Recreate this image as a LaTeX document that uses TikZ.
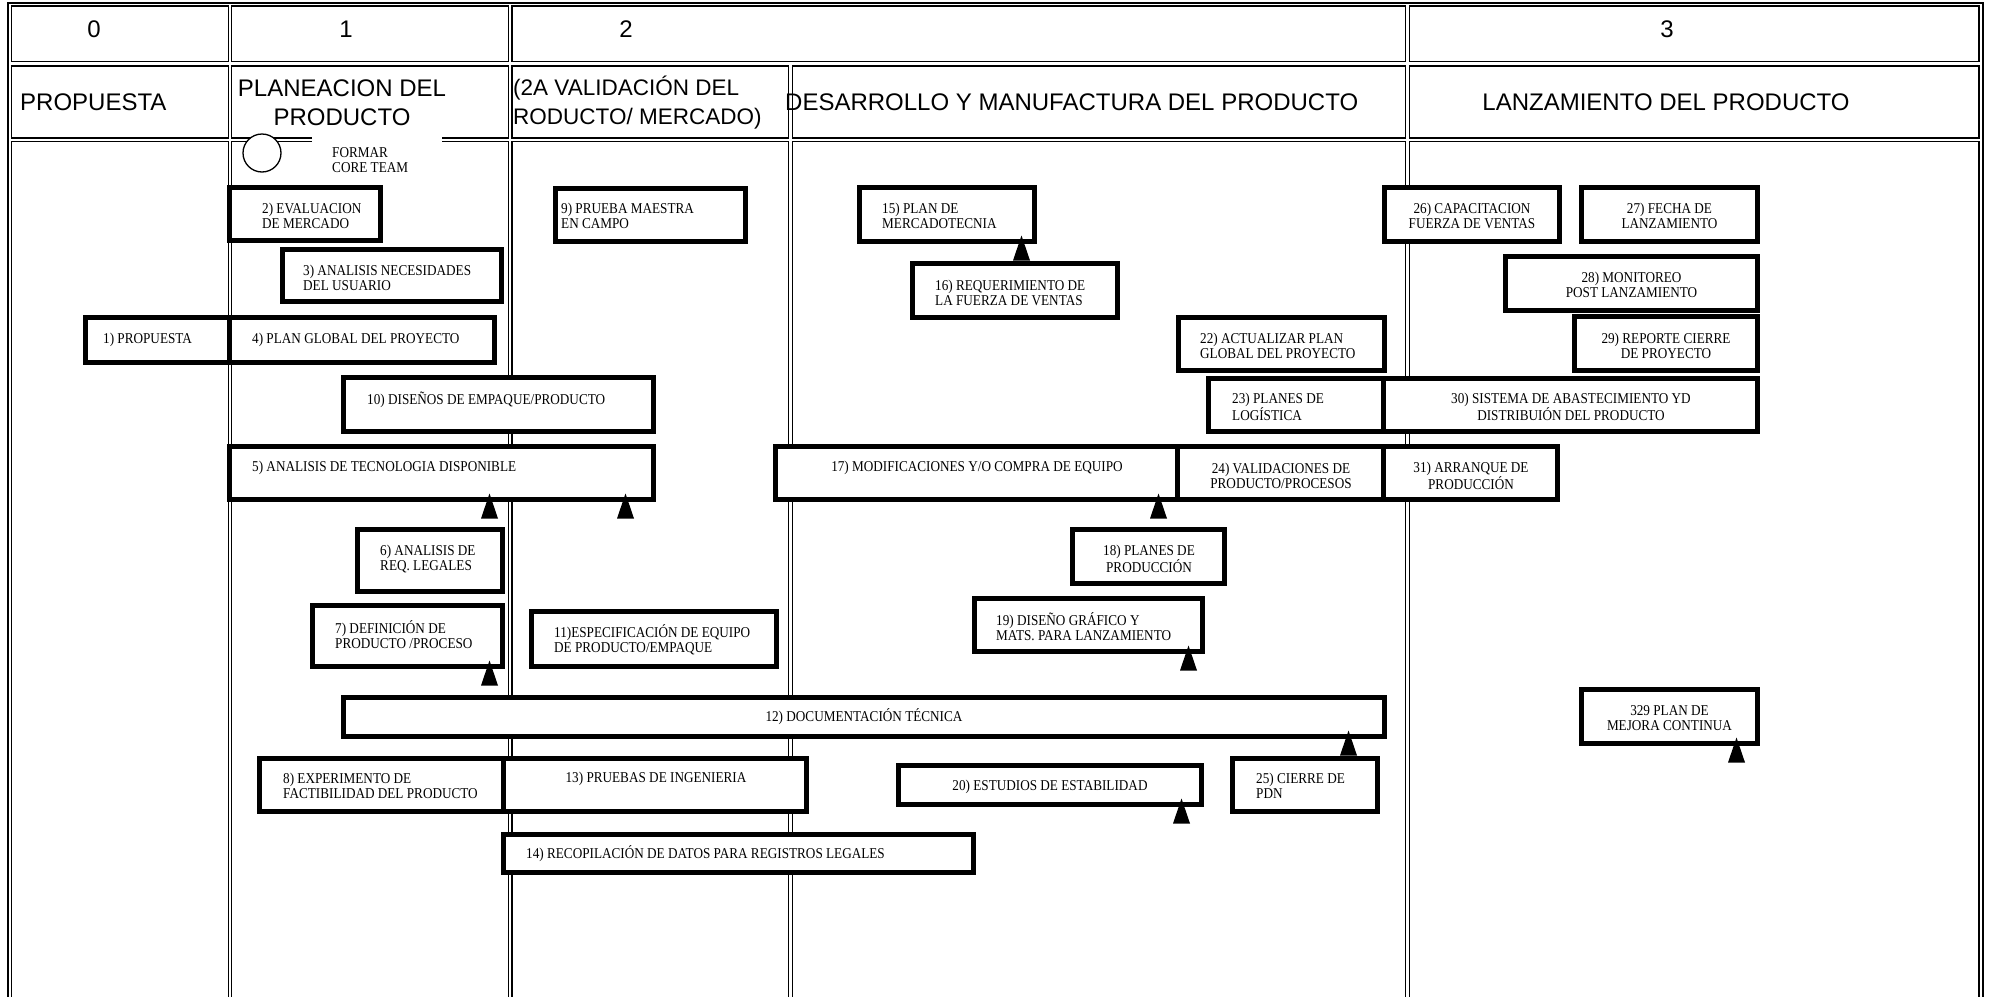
\documentclass[tikz,border=0pt]{standalone}
\usepackage{fontspec}
\setmainfont{Liberation Serif}
\newfontfamily\headfont{Liberation Sans}
\newfontfamily\taskfont[FakeStretch=0.88]{Liberation Serif}
\usetikzlibrary{calc}

% task box given by its outer corners: name, x1, y1, x2, y2
\newcommand\taskbox[5]{%
  \node[task,minimum width={#4-#2-5},minimum height={#5-#3-5}]
    (#1) at ({(#2+#4)/2},{(#3+#5)/2}) {};}
% small upward marker hanging under a box, #2 = distance from its right edge
\newcommand\upmarker[2]{%
  \fill ($(#1.south east)+({2.5-#2},-8.5)$) -- ++(8.5,25) -- ++(-17,0) -- cycle;}

\begin{document}
\begin{tikzpicture}[x=1pt,y=-1pt,
  cell/.style={draw=black,line width=1.3pt},
  task/.style={rectangle,draw=black,fill=white,line width=5pt,inner sep=0pt},
  tasktext/.style={font=\taskfont\fontsize{15}{15}\selectfont,inner sep=0pt},
  head/.style={font=\headfont\fontsize{24}{29}\selectfont,inner sep=0pt},
  blank/.style={fill=white,draw=none}]
\useasboundingbox (0,0) rectangle (1989,996);

% ---- table frame and cells ----
\draw[cell] (8,3) rectangle (1983,1100);
\foreach \a/\b in {11.5/228.5, 231.7/508.5, 512/1405.5, 1409.3/1979}
  \draw[cell] (\a,6) rectangle (\b,61.5);
\foreach \a/\b in {11.5/228.5, 231.7/508.5, 512/788.5, 792.3/1405.5, 1409.3/1979}{
  \draw[cell] (\a,66) rectangle (\b,138);
  \draw[cell] (\a,141.8) rectangle (\b,1100);
}

% ---- phase numbers ----
\node[head] (n0) at (94,29) {0};
\node[head] (n1) at (346,29) {1};
\node[head] (n2) at (626,29) {2};
\node[head] (n3) at (1667,29) {3};

% ---- phase titles ----
\node[head,anchor=west] (h0) at (20,102.5) {PROPUESTA};
\node[head,align=center] (h1) at (342,103) {PLANEACION DEL\\PRODUCTO};
\node[head,align=left,anchor=west,font=\headfont\fontsize{22.5}{29}\selectfont]
  (h2) at (513,103) {(2A VALIDACIÓN DEL\\RODUCTO/ MERCADO)};
\node[head,anchor=west] (h3) at (785,102.5) {DESARROLLO Y MANUFACTURA DEL PRODUCTO};
\node[head] (h4) at (1666,102.5) {LANZAMIENTO DEL PRODUCTO};

% ---- core team start ----
\fill[blank] (312,126) rectangle (442,180);
\node[circle,draw=black,fill=white,line width=1.3pt,minimum size=38pt,inner sep=0pt]
  (core) at (262,153) {};
\node[tasktext,anchor=west,align=left] (corel) at (332,160.5) {FORMAR\\CORE TEAM};

% ---- tasks ----
\taskbox{b2}{227}{185}{383}{243}
\taskbox{b3}{280}{247}{504}{304}
\taskbox{b1}{83}{315}{233}{365}
\taskbox{b4}{227}{315}{497}{365}
\taskbox{b9}{553}{186}{748}{244}
\taskbox{b10}{341}{375}{656}{434}
\taskbox{b5}{227}{444}{656}{502}
\taskbox{b6}{355}{527}{505}{594}
\taskbox{b7}{310}{603}{505}{669}
\taskbox{b11}{529}{609}{779}{669}
\taskbox{b12}{341}{695}{1387}{739}
\taskbox{b8}{257}{756}{507}{814}
\taskbox{b13}{501}{756}{809}{814}
\taskbox{b14}{501}{832}{976}{875}
\taskbox{b15}{857}{185}{1037}{244}
\taskbox{b16}{910}{261}{1120}{320}
\taskbox{b17}{773}{444}{1181}{502}
\taskbox{b18}{1070}{527}{1227}{586}
\taskbox{b19}{972}{596}{1205}{654}
\taskbox{b20}{896}{763}{1204}{807}
\taskbox{b22}{1176}{315}{1387}{373}
\taskbox{b23}{1206}{376}{1387}{434}
\taskbox{b24}{1175}{444}{1387}{502}
\taskbox{b25}{1230}{756}{1380}{814}
\taskbox{b26}{1382}{185}{1562}{244}
\taskbox{b27}{1579}{185}{1760}{244}
\taskbox{b28}{1503}{254}{1760}{313}
\taskbox{b29}{1572}{314}{1760}{373}
\taskbox{b30}{1381}{376}{1760}{434}
\taskbox{b31}{1381}{444}{1560}{502}
\taskbox{b329}{1579}{687}{1760}{746}

% ---- task labels ----
\begin{scope}[every node/.style={tasktext}]
\node[anchor=west] (l1) at (103,340) {1) PROPUESTA};
\node[anchor=west,align=left] (l2) at (262,216) {2) EVALUACION\\DE MERCADO};
\node[anchor=west,align=left] (l3) at (303,277.5) {3) ANALISIS NECESIDADES\\DEL USUARIO};
\node[anchor=west] (l4) at (252,340) {4) PLAN GLOBAL DEL PROYECTO};
\node[anchor=west] (l5) at (252,468) {5) ANALISIS DE TECNOLOGIA DISPONIBLE};
\node[anchor=west,align=left] (l6) at (380,559) {6) ANALISIS DE\\REQ. LEGALES};
\node[anchor=west,align=left] (l7) at (335,634.5) {7) DEFINICIÓN DE\\PRODUCTO /PROCESO};
\node[anchor=west,align=left] (l8) at (283,786) {8) EXPERIMENTO DE\\FACTIBILIDAD DEL PRODUCTO};
\node[anchor=west,align=left] (l9) at (561,215.5) {9) PRUEBA MAESTRA\\EN CAMPO};
\node[anchor=west] (l10) at (367,400) {10) DISEÑOS DE EMPAQUE/PRODUCTO};
\node[anchor=west,align=left] (l11) at (554,640) {11)ESPECIFICACIÓN DE EQUIPO\\DE PRODUCTO/EMPAQUE};
\node (l12) at (864,717) {12) DOCUMENTACIÓN TÉCNICA};
\node (l13) at (656,779) {13) PRUEBAS DE INGENIERIA};
\node[anchor=west] (l14) at (526,854) {14) RECOPILACIÓN DE DATOS PARA REGISTROS LEGALES};
\node[anchor=west,align=left] (l15) at (882,215.5) {15) PLAN DE\\MERCADOTECNIA};
\node[anchor=west,align=left] (l16) at (935,292.5) {16) REQUERIMIENTO DE\\LA FUERZA DE VENTAS};
\node (l17) at (977,468) {17) MODIFICACIONES Y/O COMPRA DE EQUIPO};
\node[align=center] (l18) at (1149,558.5) {18) PLANES DE\\PRODUCCIÓN};
\node[anchor=west,align=left] (l19) at (996,626.5) {19) DISEÑO GRÁFICO Y\\MATS. PARA LANZAMIENTO};
\node (l20) at (1050,787) {20) ESTUDIOS DE ESTABILIDAD};
\node[anchor=west,align=left] (l22) at (1200,345.5) {22) ACTUALIZAR PLAN\\GLOBAL DEL PROYECTO};
\node[anchor=west,align=left] (l23) at (1232,406.5) {23) PLANES DE\\LOGÍSTICA};
\node[align=center] (l24) at (1281,475.5) {24) VALIDACIONES DE\\PRODUCTO/PROCESOS};
\node[anchor=west,align=left] (l25) at (1256,785.5) {25) CIERRE DE\\PDN};
\node[align=center] (l26) at (1472,215.5) {26) CAPACITACION\\FUERZA DE VENTAS};
\node[align=center] (l27) at (1669.5,215.5) {27) FECHA DE\\LANZAMIENTO};
\node[align=center] (l28) at (1631.5,284.5) {28) MONITOREO\\POST LANZAMIENTO};
\node[align=center] (l29) at (1666,345.5) {29) REPORTE CIERRE\\DE PROYECTO};
\node[align=center] (l30) at (1571,406.5) {30) SISTEMA DE ABASTECIMIENTO YD\\DISTRIBUIÓN DEL PRODUCTO};
\node[align=center] (l31) at (1471,475.5) {31) ARRANQUE DE\\PRODUCCIÓN};
\node[align=center] (l329) at (1669.5,718.5) {329 PLAN DE\\MEJORA CONTINUA};
\end{scope}

% ---- markers ----
\upmarker{b5}{169}
\upmarker{b5}{33}
\upmarker{b7}{18}
\upmarker{b15}{18}
\upmarker{b17}{25}
\upmarker{b19}{19}
\upmarker{b12}{41}
\upmarker{b20}{25}
\upmarker{b329}{26}
\end{tikzpicture}
\end{document}
